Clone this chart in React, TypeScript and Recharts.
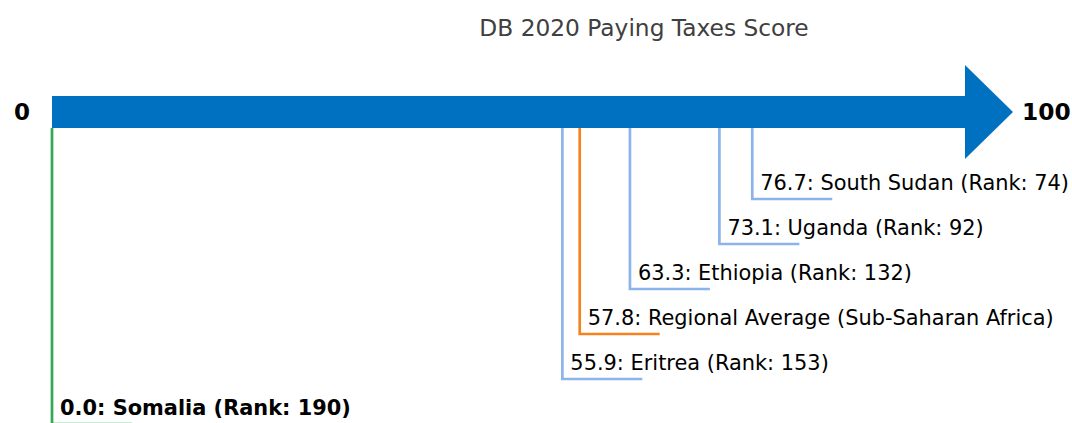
import React from 'react';
import { ComposedChart, Line, XAxis, YAxis, ReferenceArea } from 'recharts';

const title = 'DB 2020 Paying Taxes Score';
const axisTicks = [0, 100];
const economies = ['South Sudan', 'Uganda', 'Ethiopia', 'Regional Average (Sub-Saharan Africa)', 'Eritrea', 'Somalia'];
const scores = [76.7, 73.1, 63.3, 57.8, 55.9, 0.0];
const ranks: (number | null)[] = [74, 92, 132, null, 153, 190];
const roles = ['peer', 'peer', 'peer', 'region', 'peer', 'focus'];

const W = 1072;
const H = 424;
const FONT = "'DejaVu Sans', 'Noto Sans', sans-serif";
const COLORS: Record<string, string> = { peer: '#8db4ea', region: '#f5821f', focus: '#34a853' };
const ARROW = '#0070c0';
const BAR_TOP = -1.289;
const BAR_BOTTOM = -0.578;
const LEG = 8.76;

function ArrowShape(props: any) {
  const { x, y, width, height } = props;
  const h = Math.abs(height);
  const top = Math.min(y, y + height);
  const cy = top + h / 2;
  const xe = x + width;
  const hh = h * 1.47;
  const hl = h * 1.5;
  return (
    <g>
      <rect x={x} y={top} width={width} height={h} fill={ARROW} />
      <polygon points={`${xe},${cy - hh} ${xe + hl},${cy} ${xe},${cy + hh}`} fill={ARROW} />
      <text x={x - 22} y={cy + 8.4} textAnchor="end" fontFamily={FONT} fontWeight="bold" fontSize={23} fill="#000">
        {String(axisTicks[0])}
      </text>
      <text x={xe + hl + 9} y={cy + 8.4} textAnchor="start" fontFamily={FONT} fontWeight="bold" fontSize={23.3} fill="#000">
        {String(axisTicks[1])}
      </text>
      <text x={644} y={36} textAnchor="middle" fontFamily={FONT} fontSize={23.3} fill="#404040">
        {title}
      </text>
    </g>
  );
}

function labelText(i: number) {
  const base = `${scores[i].toFixed(1)}: ${economies[i]}`;
  return ranks[i] != null ? `${base} (Rank: ${ranks[i]})` : base;
}

function makeLabel(i: number) {
  return (p: any) => {
    if (p.index !== 1) return <g />;
    return (
      <text
        x={p.x + 8}
        y={p.y - 9.5}
        fontFamily={FONT}
        fontSize={20.9}
        fontWeight={roles[i] === 'focus' ? 'bold' : 'normal'}
        fill="#000"
      >
        {labelText(i)}
      </text>
    );
  };
}

export default function App() {
  return (
    <div style={{ position: 'fixed', left: 0, top: 0, width: 1072, height: 423, overflow: 'hidden', background: '#fff' }}>
      <ComposedChart width={W} height={H} margin={{ top: 1, right: 107, bottom: 0, left: 52 }}>
        <XAxis type="number" dataKey="x" domain={[0, 100]} hide />
        <YAxis type="number" domain={[-3.4, 6]} reversed hide />
        <ReferenceArea x1={axisTicks[0]} x2={axisTicks[1]} y1={BAR_TOP} y2={BAR_BOTTOM} shape={ArrowShape} />
        {scores.map((s, i) => {
          const level = i + 1;
          const data = [
            { x: s, y: BAR_BOTTOM },
            { x: s, y: level },
            { x: s + LEG, y: level },
          ];
          return (
            <Line
              key={economies[i]}
              data={data}
              dataKey="y"
              type="linear"
              stroke={COLORS[roles[i]]}
              strokeWidth={2.7}
              dot={false}
              activeDot={false}
              isAnimationActive={false}
              label={makeLabel(i)}
            />
          );
        })}
      </ComposedChart>
    </div>
  );
}
